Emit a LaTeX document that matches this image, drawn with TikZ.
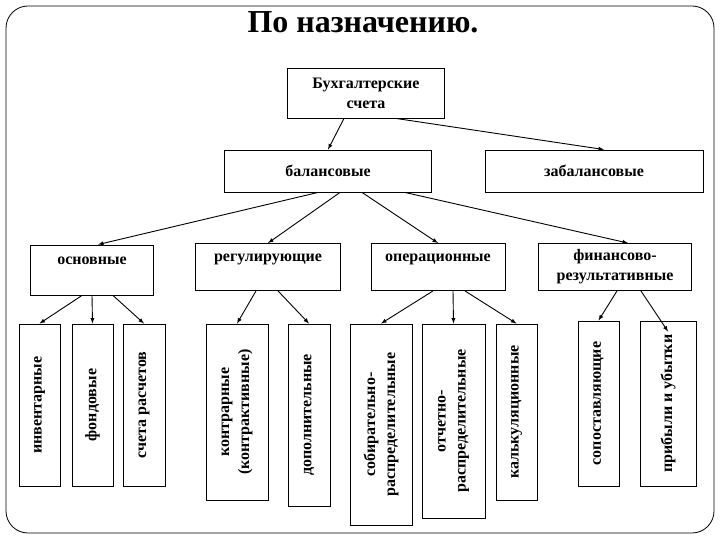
\documentclass[tikz,border=0pt]{standalone}
\usepackage{fontspec}
\setmainfont{Liberation Serif}
\begin{document}
\begin{tikzpicture}[x=1pt,y=-1pt,
  box/.style={draw,line width=0.9pt,inner sep=2pt,align=center,font=\bfseries\fontsize{16}{20}\selectfont},
  vbox/.style={box,rotate=90},
  arr/.style={-latex,line width=0.9pt}]
\useasboundingbox (0,0) rectangle (720,540);
\draw[line width=0.8pt,rounded corners=22pt] (6,6) rectangle (714,533);
\node[font=\bfseries\fontsize{32}{36}\selectfont] (title) at (363,22) {По назначению.};
\node[box,minimum width=157,minimum height=50] (bu) at (366,93) {Бухгалтерские\\счета};
\node[box,minimum width=207,minimum height=42] (bal) at (328,171) {балансовые};
\node[box,minimum width=218,minimum height=42] (zab) at (594,171) {забалансовые};
\node[box,minimum width=123,minimum height=50,text depth=18pt] (osn) at (92,270) {основные};
\node[box,minimum width=145,minimum height=47,text depth=18pt] (reg) at (268,267) {регулирующие};
\node[box,minimum width=134,minimum height=47,text depth=18pt] (op) at (438,267) {операционные};
\node[box,minimum width=153,minimum height=47] (fin) at (615,267) {финансово-\\результативные};
\node[vbox,minimum width=162,minimum height=41] (inv) at (39.5,405) {инвентарные};
\node[vbox,minimum width=162,minimum height=41] (fond) at (92.5,405) {фондовые};
\node[vbox,minimum width=162,minimum height=42] (sch) at (144,405) {счета расчетов};
\node[vbox,minimum width=176,minimum height=62] (kon) at (237,412) {контрарные\\(контрактивные)};
\node[vbox,minimum width=182,minimum height=42] (dop) at (309,415) {дополнительные};
\node[vbox,minimum width=201,minimum height=62] (sob) at (381,424.5) {собирательно-\\распределительные};
\node[vbox,minimum width=194,minimum height=63] (otch) at (453.5,421) {отчетно-\\распределительные};
\node[vbox,minimum width=176,minimum height=41] (kal) at (516.5,412) {калькуляционные};
\node[vbox,minimum width=165,minimum height=41] (sop) at (598.5,403.5) {сопоставляющие};
\node[vbox,minimum width=165,minimum height=56] (prib) at (668,403.5) {прибыли и убытки};
\draw[arr] ([xshift=-22pt]bu.south) -- (bal.north);
\draw[arr] ([xshift=30pt]bu.south) -- ([xshift=10pt]zab.north);
\draw[arr] ([xshift=-10pt]bal.south) -- ([xshift=6pt]osn.north);
\draw[arr] ([xshift=12pt]bal.south) -- (reg.north);
\draw[arr] ([xshift=34pt]bal.south) -- (op.north);
\draw[arr] ([xshift=77pt]bal.south) -- ([xshift=13pt]fin.north);
\draw[arr] ([xshift=-10pt]osn.south) -- (inv.east);
\draw[arr] (osn.south) -- (fond.east);
\draw[arr] ([xshift=21pt]osn.south) -- (sch.east);
\draw[arr] ([xshift=-12pt]reg.south) -- (kon.east);
\draw[arr] ([xshift=10pt]reg.south) -- (dop.east);
\draw[arr] ([xshift=-5pt]op.south) -- (sob.east);
\draw[arr] ([xshift=15pt]op.south) -- (otch.east);
\draw[arr] ([xshift=27pt]op.south) -- (kal.east);
\draw[arr] ([xshift=2pt]fin.south) -- (sop.east);
\draw[arr] ([xshift=26pt]fin.south) -- ([yshift=-11pt]prib.east);
\end{tikzpicture}
\end{document}
